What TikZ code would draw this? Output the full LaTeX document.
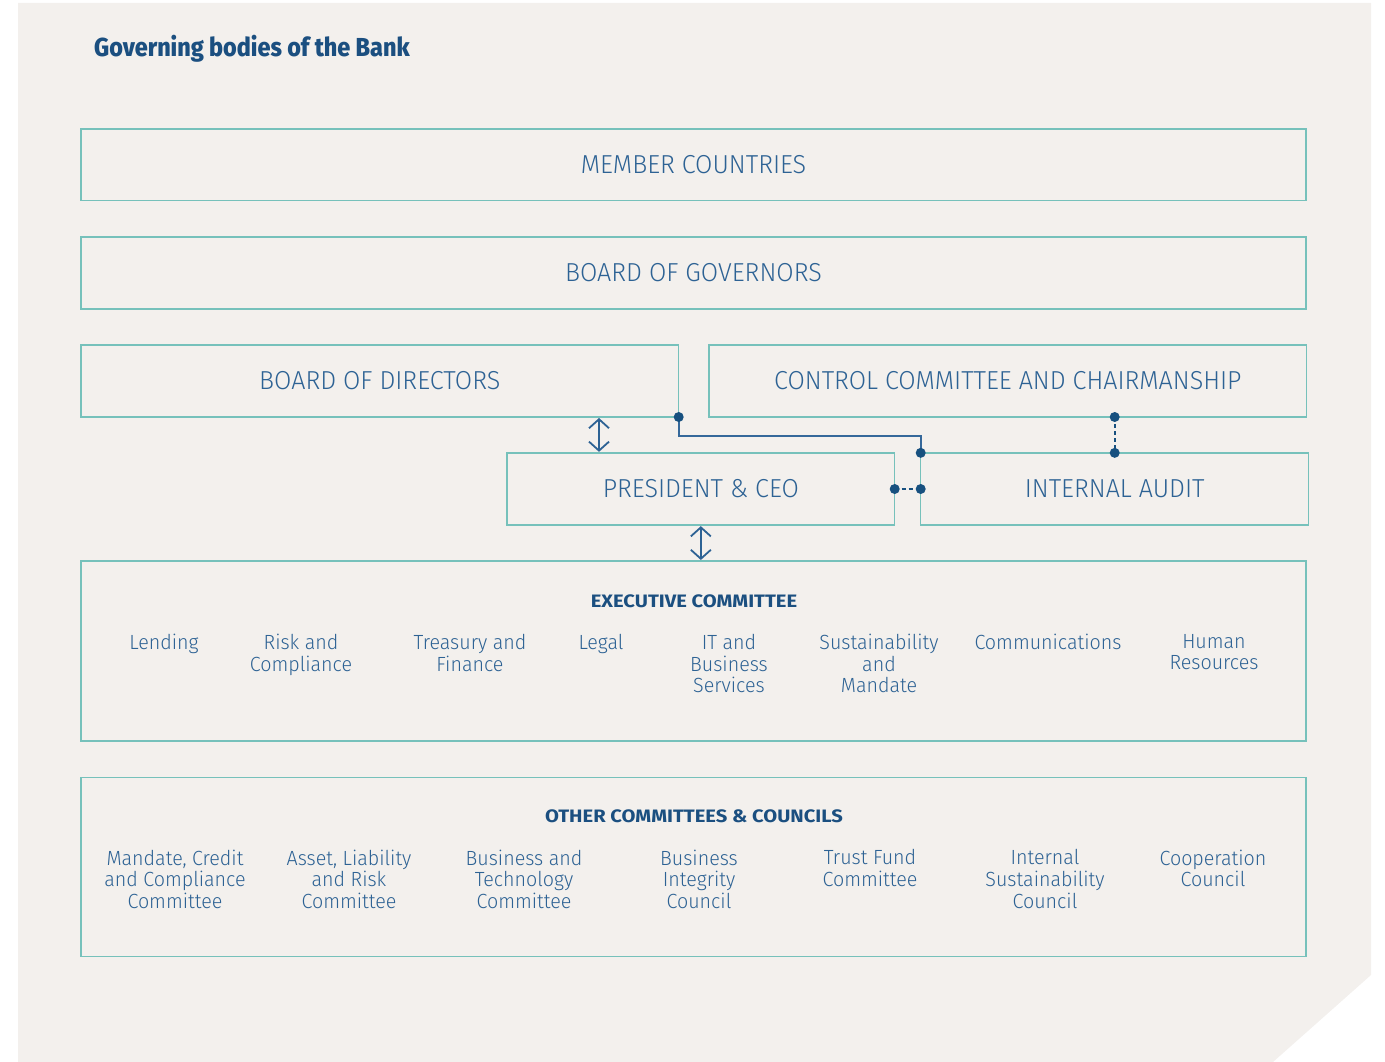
\documentclass[tikz,border=0pt]{standalone}
\usepackage{fontspec}
\setmainfont{Fira Sans}[UprightFont={* Light},BoldFont={* Bold},FakeStretch=0.95]
\newfontfamily\boxfont{Fira Sans}[UprightFont={* Light},FakeStretch=0.965]
\newfontfamily\itemfont{Fira Sans}[UprightFont={* Light},FakeStretch=0.96]
\newfontfamily\headfont{Fira Sans}[UprightFont={* Bold},FakeStretch=1.12]
\newfontfamily\titlefont{Fira Sans}[UprightFont={* ExtraBold},FakeStretch=0.90]
\usetikzlibrary{arrows.meta,calc}
\definecolor{bgc}{HTML}{F3F0ED}
\definecolor{teal}{HTML}{76C1BB}
\definecolor{txt}{HTML}{2D6294}
\definecolor{head}{HTML}{1B4F80}
\definecolor{dotc}{HTML}{17507F}
\definecolor{conc}{HTML}{35689A}
\tikzset{
  box/.style={draw=teal,line width=1.5pt,inner sep=0pt,outer sep=0pt,text=txt,
    font=\boxfont\fontsize{26}{30}\selectfont},
  item/.style={text=txt,align=center,anchor=north,inner sep=0pt,
    font=\itemfont\fontsize{20.5}{21.6}\selectfont},
  headtxt/.style={text=head,inner sep=0pt,font=\headfont\fontsize{18}{22}\selectfont},
  conn/.style={draw=conc,line width=1.8pt},
  dashconn/.style={draw=dotc,line width=1.8pt,dash pattern=on 4pt off 3pt},
  dbl/.style={draw=txt,line width=1.8pt,{Straight Barb[length=9pt,width=20pt]}-{Straight Barb[length=9pt,width=20pt]},shorten <=1pt,shorten >=1pt},
  dotfill/.style={fill=dotc}
}
\begin{document}
\begin{tikzpicture}[x=1pt,y=-1pt]
\useasboundingbox (0,0) rectangle (1385,1062);
\fill[bgc] (18,3) -- (1371,3) -- (1371,975) -- (1273,1062) -- (18,1062) -- cycle;
\node[anchor=base west,inner sep=0pt,text=head,font=\titlefont\fontsize{26}{30}\selectfont] (title) at (94,57) {Governing bodies of the Bank};
% boxes
\node[box,minimum width=1225pt,minimum height=71.5pt] (mc) at (693.5,165) {MEMBER COUNTRIES};
\node[box,minimum width=1225pt,minimum height=72pt] (bog) at (693.5,273) {BOARD OF GOVERNORS};
\node[box,minimum width=597.7pt,minimum height=72pt] (bod) at (379.85,381) {BOARD OF DIRECTORS};
\node[box,minimum width=597.7pt,minimum height=72pt] (cc) at (1007.85,381) {CONTROL COMMITTEE AND CHAIRMANSHIP};
\node[box,minimum width=387.7pt,minimum height=72.3pt] (pres) at (700.85,489) {PRESIDENT \& CEO};
\node[box,minimum width=388pt,minimum height=72.3pt] (ia) at (1114.7,489) {INTERNAL AUDIT};
\node[box,minimum width=1225pt,minimum height=180pt] (exec) at (693.5,651) {};
\node[box,minimum width=1225pt,minimum height=179.4pt] (other) at (693.5,867) {};
% headings
\node[headtxt] (eh) at (694,601) {EXECUTIVE COMMITTEE};
\node[headtxt] (oh) at (694,816) {OTHER COMMITTEES \& COUNCILS};
% executive items
\node[item] (i1) at (164,634) {Lending};
\node[item] (i2) at (301,634) {Risk and\\Compliance};
\node[item] (i3) at (470,634) {Treasury and\\Finance};
\node[item] (i4) at (601,634) {Legal};
\node[item] (i5) at (729,634) {IT and\\Business\\Services};
\node[item] (i6) at (879,634) {Sustainability\\and\\Mandate};
\node[item] (i7) at (1048,634) {Communications};
\node[item] (i8) at (1214,634) {Human\\Resources};
% other items
\node[item] (o1) at (175,849.5) {Mandate, Credit\\and Compliance\\Committee};
\node[item] (o2) at (349,849.5) {Asset, Liability\\and Risk\\Committee};
\node[item] (o3) at (524,849.5) {Business and\\Technology\\Committee};
\node[item] (o4) at (699,849.5) {Business\\Integrity\\Council};
\node[item] (o5) at (870,849.5) {Trust Fund\\Committee};
\node[item] (o6) at (1045,849.5) {Internal\\Sustainability\\Council};
\node[item] (o7) at (1213,849.5) {Cooperation\\Council};
% connectors
\draw[conn] (bod.south east) -- ++(0,19) -| (ia.north west);
\draw[dashconn] (pres.east) -- (ia.west);
\draw[dashconn] (ia.north |- cc.south) -- (ia.north);
\fill[dotfill] (bod.south east) circle (5pt);
\fill[dotfill] (ia.north west) circle (5pt);
\fill[dotfill] (pres.east) circle (5pt);
\fill[dotfill] (ia.west) circle (5pt);
\fill[dotfill] (ia.north |- cc.south) circle (5pt);
\fill[dotfill] (ia.north) circle (5pt);
\coordinate (a1) at ($(pres.north west)+(92,0)$);
\draw[dbl] (a1) -- (a1 |- bod.south);
\draw[dbl] (pres.south) -- (pres.south |- exec.north);
\end{tikzpicture}
\end{document}
